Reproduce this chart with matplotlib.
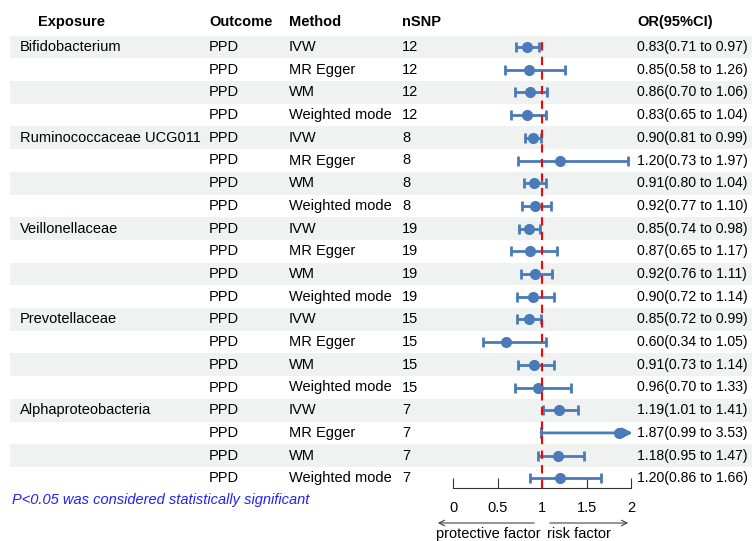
import matplotlib.pyplot as plt

exposures = ["Bifidobacterium", "Ruminococcaceae UCG011", "Veillonellaceae",
             "Prevotellaceae", "Alphaproteobacteria"]
methods = ["IVW", "MR Egger", "WM", "Weighted mode"]
nsnp = [12, 8, 19, 15, 7]
outcome = "PPD"

# OR, lower, upper for each exposure x method
or_val = [0.83, 0.85, 0.86, 0.83,
          0.90, 1.20, 0.91, 0.92,
          0.85, 0.87, 0.92, 0.90,
          0.85, 0.60, 0.91, 0.96,
          1.19, 1.87, 1.18, 1.20]
ci_low = [0.71, 0.58, 0.70, 0.65,
          0.81, 0.73, 0.80, 0.77,
          0.74, 0.65, 0.76, 0.72,
          0.72, 0.34, 0.73, 0.70,
          1.01, 0.99, 0.95, 0.86]
ci_high = [0.97, 1.26, 1.06, 1.04,
           0.99, 1.97, 1.04, 1.10,
           0.98, 1.17, 1.11, 1.14,
           0.99, 1.05, 1.14, 1.33,
           1.41, 3.53, 1.47, 1.66]
xticks = [0, 0.5, 1, 1.5, 2]
XMAX = 2

W, H = 752, 541
ROW0, STEP = 47, 22.7
BLUE = "#4a7ab8"
FS = 10.5

fig = plt.figure(figsize=(W / 100, H / 100), dpi=100)
plt.rcParams["font.family"] = ["Liberation Sans", "DejaVu Sans"]

# table layer in pixel coordinates
tab = fig.add_axes([0, 0, 1, 1])
tab.set_xlim(0, W)
tab.set_ylim(H, 0)
tab.axis("off")

n = len(or_val)
for i in range(n):
    y = ROW0 + STEP * i
    if i % 2 == 0:
        tab.axhspan(y - STEP / 2, y + STEP / 2, xmin=10 / W, xmax=1,
                    color="#eff2f1", lw=0, zorder=0)
    e, m = divmod(i, 4)
    if m == 0:
        tab.text(20, y, exposures[e], fontsize=FS, va="center")
    tab.text(209, y, outcome, fontsize=FS, va="center")
    tab.text(289, y, methods[m], fontsize=FS, va="center")
    tab.text(402, y, str(nsnp[e]), fontsize=FS, va="center")
    tab.text(637, y, f"{or_val[i]:.2f}({ci_low[i]:.2f} to {ci_high[i]:.2f})",
             fontsize=10.1, va="center")

hy = 22
tab.text(38, hy, "Exposure", fontsize=FS, fontweight="bold", va="center")
tab.text(209, hy, "Outcome", fontsize=FS, fontweight="bold", va="center")
tab.text(289, hy, "Method", fontsize=FS, fontweight="bold", va="center")
tab.text(402, hy, "nSNP", fontsize=FS, fontweight="bold", va="center")
tab.text(637, hy, "OR(95%CI)", fontsize=FS, fontweight="bold", va="center")

tab.text(12, 500, "P<0.05 was considered statistically significant",
         fontsize=FS, style="italic", color="#1f1fff", va="center")

# forest plot
x0, x1 = 453, 631
top, bot = 36, 488
fax = fig.add_axes([x0 / W, 1 - bot / H, (x1 - x0) / W, (bot - top) / H])
fax.patch.set_visible(False)
fax.set_xlim(0, XMAX)
fax.set_ylim((bot - ROW0) / STEP, (top - ROW0) / STEP)

for i in range(n):
    hi = min(ci_high[i], XMAX)
    if ci_high[i] > XMAX:
        fax.annotate("", xy=(XMAX + 0.02, i), xytext=(ci_low[i], i),
                     arrowprops=dict(arrowstyle="-|>", color=BLUE, lw=2,
                                     mutation_scale=14, shrinkA=0, shrinkB=0),
                     annotation_clip=False)
        fax.plot([ci_low[i]] * 2, [i - 0.2, i + 0.2], color=BLUE, lw=2,
                 clip_on=False)
    else:
        fax.errorbar(or_val[i], i, xerr=[[or_val[i] - ci_low[i]], [hi - or_val[i]]],
                     fmt="none", ecolor=BLUE, elinewidth=2, capsize=3.5,
                     capthick=2, clip_on=False)
    fax.plot(or_val[i], i, "o", color=BLUE, ms=7, clip_on=False, zorder=3)

fax.axvline(1, color="red", ls=(0, (4, 3)), lw=1.5, zorder=4)

for s in ["top", "right", "left"]:
    fax.spines[s].set_visible(False)
fax.spines["bottom"].set_color("#333333")
fax.spines["bottom"].set_linewidth(0.8)
fax.set_yticks([])
fax.set_xticks(xticks)
fax.set_xticklabels([f"{t:g}" for t in xticks])
fax.tick_params(axis="x", direction="in", length=7, color="#333333",
                labelsize=FS, pad=9)

ay = 523
tab.annotate("", xy=(435, ay), xytext=(537, ay),
             arrowprops=dict(arrowstyle="->", color="#444444", lw=0.8))
tab.annotate("", xy=(631, ay), xytext=(547, ay),
             arrowprops=dict(arrowstyle="->", color="#444444", lw=0.8))
tab.text(436, 534, "protective factor", fontsize=FS, va="center")
tab.text(547, 534, "risk factor", fontsize=FS, va="center")

fig.savefig("out.png", dpi=100)
